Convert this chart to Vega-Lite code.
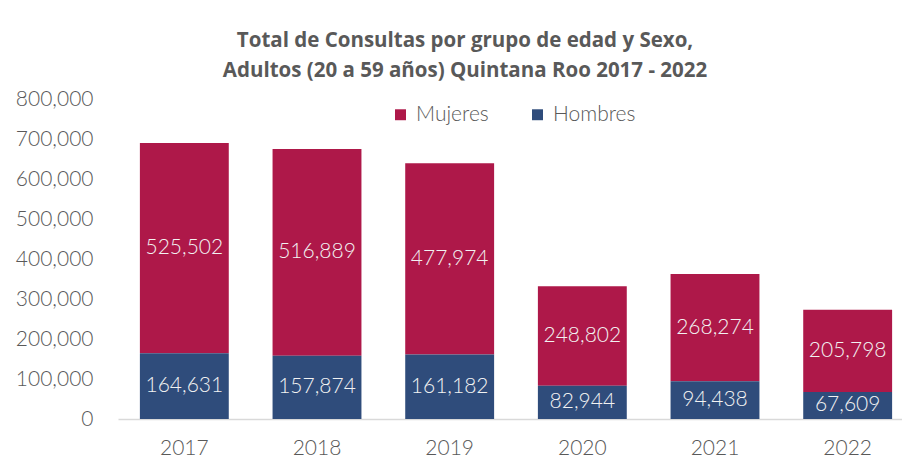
{
  "$schema": "https://vega.github.io/schema/vega-lite/v6.json",
  "width": 796,
  "height": 320,
  "padding": {"left": 15, "top": 30, "right": 0, "bottom": 0},
  "background": "white",
  "title": {
    "text": ["Total de Consultas por grupo de edad y Sexo,", "Adultos (20 a 59 años) Quintana Roo 2017 - 2022"],
    "font": "Open Sans",
    "fontSize": 20.5,
    "fontWeight": "bold",
    "color": "#595959",
    "lineHeight": 30,
    "anchor": "middle",
    "frame": "group",
    "dx": -51,
    "offset": 7
  },
  "data": {
    "values": [
      {"year": "2017", "sexo": "Mujeres", "orden": 2, "v": 525502},
      {"year": "2017", "sexo": "Hombres", "orden": 1, "v": 164631},
      {"year": "2018", "sexo": "Mujeres", "orden": 2, "v": 516889},
      {"year": "2018", "sexo": "Hombres", "orden": 1, "v": 157874},
      {"year": "2019", "sexo": "Mujeres", "orden": 2, "v": 477974},
      {"year": "2019", "sexo": "Hombres", "orden": 1, "v": 161182},
      {"year": "2020", "sexo": "Mujeres", "orden": 2, "v": 248802},
      {"year": "2020", "sexo": "Hombres", "orden": 1, "v": 82944},
      {"year": "2021", "sexo": "Mujeres", "orden": 2, "v": 268274},
      {"year": "2021", "sexo": "Hombres", "orden": 1, "v": 94438},
      {"year": "2022", "sexo": "Mujeres", "orden": 2, "v": 205798},
      {"year": "2022", "sexo": "Hombres", "orden": 1, "v": 67609}
    ]
  },
  "transform": [
    {"stack": "v", "groupby": ["year"], "sort": [{"field": "orden", "order": "ascending"}], "as": ["v0", "v1"]},
    {"calculate": "(datum.v0 + datum.v1) / 2", "as": "mid"}
  ],
  "encoding": {
    "x": {
      "field": "year",
      "type": "nominal",
      "title": null,
      "scale": {"paddingInner": 0.33, "paddingOuter": 0.165},
      "axis": {
        "labelAngle": 0,
        "labelFont": "Lato",
        "labelFontWeight": 300,
        "labelFontSize": 21,
        "labelColor": "#595959",
        "labelPadding": 18,
        "ticks": false,
        "domainColor": "#D9D9D9",
        "domainWidth": 1.5,
        "grid": false
      }
    }
  },
  "layer": [
    {
      "mark": {"type": "bar"},
      "encoding": {
        "y": {
          "field": "v0",
          "type": "quantitative",
          "title": null,
          "scale": {"domain": [0, 800000]},
          "axis": {"format": ",d", "values": [0, 100000, 200000, 300000, 400000, 500000, 600000, 700000, 800000]}
        },
        "y2": {"field": "v1"},
        "color": {
          "field": "sexo",
          "type": "nominal",
          "scale": {"domain": ["Mujeres", "Hombres"], "range": ["#AE1849", "#2F4C7B"]},
          "legend": {
            "title": null,
            "orient": "none",
            "legendX": 272,
            "legendY": 5,
            "direction": "horizontal",
            "columns": 2,
            "symbolType": "square",
            "symbolSize": 120,
            "symbolStrokeWidth": 0,
            "labelFont": "Lato",
            "labelFontWeight": 300,
            "labelFontSize": 21,
            "labelColor": "#595959",
            "columnPadding": 38,
            "labelOffset": 5
          }
        }
      }
    },
    {
      "mark": {"type": "text", "font": "Lato", "fontWeight": 300, "fontSize": 21, "color": "#F2F2F2", "baseline": "middle"},
      "encoding": {
        "y": {
          "field": "mid",
          "type": "quantitative",
          "title": null,
          "axis": {"format": ",d", "values": [0, 100000, 200000, 300000, 400000, 500000, 600000, 700000, 800000]}
        },
        "text": {"field": "v", "type": "quantitative", "format": ","}
      }
    }
  ],
  "config": {
    "view": {"stroke": null},
    "axisY": {
      "labelOverlap": false,
      "labelFont": "Lato",
      "labelFontWeight": 300,
      "labelFontSize": 21,
      "labelColor": "#595959",
      "labelPadding": 25,
      "ticks": false,
      "domain": false,
      "grid": false
    }
  }
}
